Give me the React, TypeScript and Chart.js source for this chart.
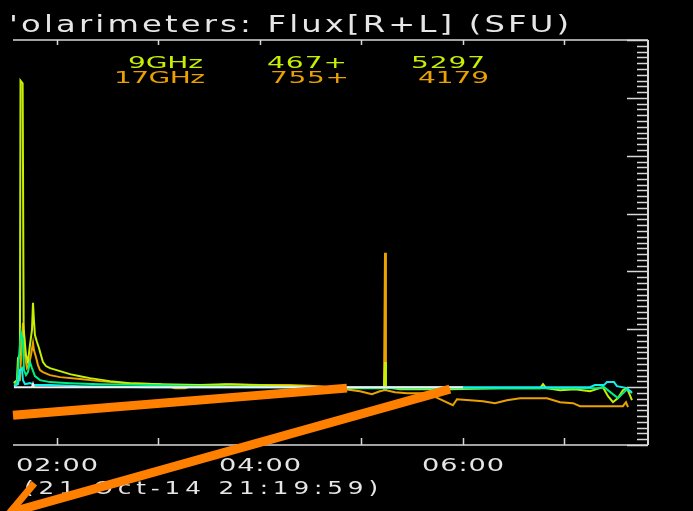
import React, { useEffect, useRef } from 'react';
import { Chart, registerables } from 'chart.js';

Chart.register(...registerables);

const W = 693;
const H = 511;

// ---- axis ranges (time in decimal hours UT, flux in SFU) ----
const X_MIN = 1.567;
const X_MAX = 7.823;
const Y_MIN = -1000;
const Y_MAX = 6000;
const HOUR_TICKS = [2, 3, 4, 5, 6, 7];
const HOUR_LABEL_VALUES = [2, 4, 6];
const HOUR_LABELS = ['02:00', '04:00', '06:00'];
const Y_MINOR_STEP = 100;
const Y_MAJOR_STEP = 1000;

// ---- texts ----
const TITLE = "'olarimeters: Flux[R+L] (SFU)";
const DATE_TEXT = '(21-Oct-14 21:19:59)';
const LEGEND_9 = ['9GHz', '467+', '5297'];
const LEGEND_17 = ['17GHz', '755+', '4179'];

// ---- 9 GHz ----
const t9 = [1.576, 1.606, 1.616, 1.635, 1.641, 1.662, 1.672, 1.695, 1.714, 1.734, 1.754, 1.764, 1.773, 1.783, 1.803, 1.823, 1.842, 1.862, 1.892, 1.931, 2.030, 2.128, 2.227, 2.325, 2.522, 2.719, 3.015, 3.409, 3.650, 3.901, 4.394, 4.837, 5.182, 5.222, 5.232, 5.241, 5.379, 5.872, 6.365, 6.759, 6.789, 6.819, 6.956, 7.103, 7.251, 7.379, 7.429, 7.478, 7.527, 7.576, 7.616, 7.665];
const f9 = [69, 121, 503, 555, 5297, 5250, 988, 555, 433, 728, 988, 1456, 1161, 901, 780, 676, 555, 433, 364, 329, 277, 225, 190, 156, 104, 69, 52, 35, 52, 35, 17, -17, -17, 0, 433, 0, -35, -35, -17, -17, 52, -17, -52, -35, -70, 0, -156, -260, -190, -52, -17, -225];

// ---- 17 GHz ----
const t17 = [1.576, 1.635, 1.655, 1.665, 1.675, 1.685, 1.704, 1.724, 1.744, 1.764, 1.773, 1.793, 1.813, 1.833, 1.862, 1.931, 2.030, 2.227, 2.424, 2.690, 3.015, 3.163, 3.261, 3.360, 3.606, 3.704, 4.000, 4.296, 4.591, 4.837, 4.985, 5.103, 5.182, 5.222, 5.232, 5.241, 5.330, 5.448, 5.645, 5.773, 5.901, 5.941, 6.069, 6.197, 6.315, 6.433, 6.562, 6.828, 6.956, 7.084, 7.153, 7.576, 7.606, 7.626];
const f17 = [87, 121, 815, 1109, 953, 555, 329, 381, 555, 762, 641, 520, 381, 295, 260, 208, 173, 139, 104, 69, 52, -17, -17, 35, 35, 52, 35, 35, 17, -35, -70, -121, -70, -52, 2322, -52, -87, -104, -104, -208, -312, -208, -225, -243, -277, -225, -191, -191, -260, -277, -329, -329, -260, -347];

// ---- green trace ----
const tGreen = [1.576, 1.606, 1.626, 1.645, 1.665, 1.675, 1.695, 1.714, 1.734, 1.754, 1.783, 1.833, 1.931, 2.128, 2.424, 2.916, 3.409, 4.394, 5.379, 6.956, 7.320, 7.389, 7.527, 7.616, 7.665];
const fGreen = [52, 69, 520, 936, 815, 295, 208, 260, 433, 329, 190, 121, 87, 69, 52, 35, 17, 0, -17, -17, -17, 0, -190, -35, -87];

// ---- cyan trace ----
const tCyan = [1.576, 1.616, 1.635, 1.655, 1.665, 1.685, 1.734, 1.783, 1.931, 2.227, 2.916, 7.251, 7.300, 7.389, 7.419, 7.488, 7.517, 7.616, 7.665];
const fCyan = [17, 52, 295, 329, 121, 52, 69, 35, 35, 17, 0, 0, 35, 35, 87, 87, 17, -17, -104];

// ---- white trace ----
const tWhite = [1.576, 1.754, 1.764, 1.773, 6.000];
const fWhite = [0, 0, 52, 0, 0];

// ---- overlay arrows (data coordinates) ----
const arrow1T = [1.567, 4.857];
const arrow1V = [-485, -17];
const arrow2T = [5.872, 1.537];
const arrow2V = [-35, -2166];

const COL_9 = '#c6f000';
const COL_17 = '#eba200';
const COL_GREEN = '#00ee80';
const COL_CYAN = '#10f0f0';
const COL_WHITE = '#f0f0f0';
const COL_FRAME = '#d8d8d8';
const COL_TEXT = '#e6e6e6';
const COL_ARROW = '#ff7f00';

const toPts = (t: number[], v: number[]) => t.map((x, i) => ({ x, y: v[i] }));

function drawSpaced(
  ctx: CanvasRenderingContext2D,
  text: string,
  left: number,
  right: number,
  baseline: number,
  size: number,
  color: string,
  sx: number
) {
  ctx.save();
  ctx.font = `${size}px "DejaVu Sans"`;
  ctx.fillStyle = color;
  ctx.textBaseline = 'alphabetic';
  ctx.textAlign = 'left';
  const chars = Array.from(text);
  const adv = chars.map((c) => ctx.measureText(c).width * sx);
  const total = adv.reduce((a, b) => a + b, 0);
  const gap = chars.length > 1 ? (right - left - total) / (chars.length - 1) : 0;
  let x = left;
  chars.forEach((c, i) => {
    ctx.save();
    ctx.translate(x, baseline);
    ctx.scale(sx, 1);
    ctx.fillText(c, 0, 0);
    ctx.restore();
    x += adv[i] + gap;
  });
  ctx.restore();
}

const framePlugin = {
  id: 'idlFrame',
  beforeDraw(chart: any) {
    const ctx = chart.ctx as CanvasRenderingContext2D;
    ctx.save();
    ctx.fillStyle = '#000';
    ctx.fillRect(0, 0, chart.width, chart.height);
    ctx.restore();
  },
  beforeDatasetsDraw(chart: any) {
    const ctx = chart.ctx as CanvasRenderingContext2D;
    const { left, right, top, bottom } = chart.chartArea;
    const xs = chart.scales.x;
    const ys = chart.scales.y;
    ctx.save();
    ctx.strokeStyle = COL_FRAME;
    ctx.lineWidth = 1.5;
    ctx.beginPath();
    ctx.moveTo(left, top);
    ctx.lineTo(right, top);
    ctx.moveTo(left, bottom);
    ctx.lineTo(right, bottom);
    ctx.stroke();
    ctx.lineWidth = 2;
    ctx.beginPath();
    ctx.moveTo(right, top);
    ctx.lineTo(right, bottom);
    ctx.stroke();
    ctx.lineWidth = 1.5;
    ctx.beginPath();
    HOUR_TICKS.forEach((h) => {
      const px = Math.round(xs.getPixelForValue(h)) + 0.5;
      ctx.moveTo(px, bottom);
      ctx.lineTo(px, bottom - 7);
      ctx.moveTo(px, top);
      ctx.lineTo(px, top + 5);
    });
    ctx.stroke();
    ctx.beginPath();
    for (let v = Y_MIN; v <= Y_MAX; v += Y_MINOR_STEP) {
      const py = Math.round(ys.getPixelForValue(v)) + 0.5;
      const len = v % Y_MAJOR_STEP === 0 ? 21 : 11;
      ctx.moveTo(right, py);
      ctx.lineTo(right - len, py);
    }
    ctx.stroke();
    ctx.restore();
  },
  afterDraw(chart: any) {
    const ctx = chart.ctx as CanvasRenderingContext2D;
    const xs = chart.scales.x;
    const ys = chart.scales.y;
    const { bottom } = chart.chartArea;

    drawSpaced(ctx, TITLE, 9, 569, 32, 23, COL_TEXT, 1.4);
    const legCols = [[128, 203], [267, 347], [411, 485]];
    const legCols17 = [[114, 205], [270, 349], [418, 489]];
    LEGEND_9.forEach((s, i) => drawSpaced(ctx, s, legCols[i][0], legCols[i][1], 68, 16, COL_9, 1.75));
    LEGEND_17.forEach((s, i) => drawSpaced(ctx, s, legCols17[i][0], legCols17[i][1], 83, 16, COL_17, 1.75));

    HOUR_LABEL_VALUES.forEach((h, i) => {
      const px = xs.getPixelForValue(h);
      drawSpaced(ctx, HOUR_LABELS[i], px - 41, px + 41, bottom + 26, 17, COL_TEXT, 1.6);
    });
    drawSpaced(ctx, DATE_TEXT, 24, 378, bottom + 49, 17, COL_TEXT, 1.45);

    const p = (t: number, v: number) => [xs.getPixelForValue(t), ys.getPixelForValue(v)];
    ctx.save();
    ctx.strokeStyle = COL_ARROW;
    ctx.lineWidth = 9;
    ctx.lineCap = 'butt';
    const [a1x, a1y] = p(arrow1T[0], arrow1V[0]);
    const [b1x, b1y] = p(arrow1T[1], arrow1V[1]);
    ctx.beginPath();
    ctx.moveTo(a1x, a1y);
    ctx.lineTo(b1x, b1y);
    ctx.stroke();
    const [a2x, a2y] = p(arrow2T[0], arrow2V[0]);
    const [b2x, b2y] = p(arrow2T[1], arrow2V[1]);
    ctx.beginPath();
    ctx.moveTo(a2x, a2y);
    ctx.lineTo(b2x, b2y);
    ctx.stroke();
    const ang = Math.atan2(a2y - b2y, a2x - b2x);
    const hl = 38;
    const spread = 0.6;
    ctx.lineWidth = 7;
    ctx.lineJoin = 'miter';
    ctx.beginPath();
    ctx.moveTo(b2x + hl * Math.cos(ang - spread), b2y + hl * Math.sin(ang - spread));
    ctx.lineTo(b2x, b2y);
    ctx.lineTo(b2x + hl * Math.cos(ang + spread), b2y + hl * Math.sin(ang + spread));
    ctx.stroke();
    ctx.restore();
  },
};

export default function App() {
  const ref = useRef<HTMLCanvasElement>(null);
  useEffect(() => {
    document.body.style.margin = '0';
    document.body.style.background = '#000';
    document.body.style.overflow = 'hidden';
    document.documentElement.style.background = '#000';
    const ds = (label: string, t: number[], v: number[], color: string) => ({
      label,
      data: toPts(t, v),
      borderColor: color,
      backgroundColor: color,
      borderWidth: 2,
      pointRadius: 0,
      fill: false,
      tension: 0,
    });
    const chart = new Chart(ref.current as HTMLCanvasElement, {
      type: 'line',
      data: {
        datasets: [
          ds('white trace', tWhite, fWhite, COL_WHITE),
          ds('cyan trace', tCyan, fCyan, COL_CYAN),
          ds('green trace', tGreen, fGreen, COL_GREEN),
          ds('9GHz', t9, f9, COL_9),
          ds('17GHz', t17, f17, COL_17),
        ],
      },
      options: {
        responsive: false,
        animation: false,
        devicePixelRatio: 1,
        layout: { padding: { left: 13, right: 45, top: 40, bottom: 66 } },
        scales: {
          x: { type: 'linear', min: X_MIN, max: X_MAX, display: false },
          y: { type: 'linear', min: Y_MIN, max: Y_MAX, display: false },
        },
        plugins: {
          legend: { display: false },
          tooltip: { enabled: false },
          title: { display: false },
        },
        events: [],
      },
      plugins: [framePlugin],
    } as any);
    return () => chart.destroy();
  }, []);
  return (
    <div style={{ width: W, height: H, background: '#000' }}>
      <canvas ref={ref} width={W} height={H} style={{ display: 'block' }} />
    </div>
  );
}
